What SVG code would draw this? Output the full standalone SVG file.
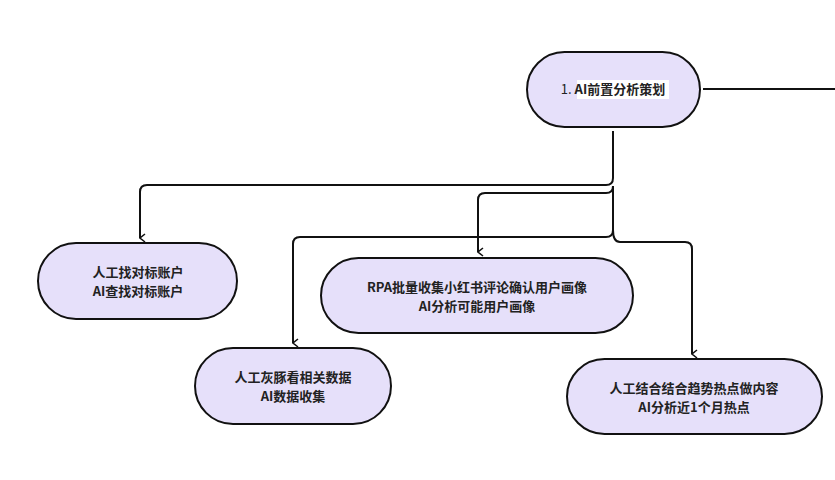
<svg xmlns="http://www.w3.org/2000/svg" width="835" height="480" viewBox="0 0 835 480">
<style>
.n{fill:#e6e0fa;stroke:#111;stroke-width:2}
.c{fill:none;stroke:#111;stroke-width:2}
text{font-family:"Noto Sans CJK SC","Noto Sans",sans-serif;font-size:13px;font-weight:bold;fill:#222;text-anchor:middle}
</style>
<defs><marker id="a" viewBox="0 0 10 10" refX="5" refY="9" markerWidth="10" markerHeight="10" markerUnits="userSpaceOnUse" orient="auto-start-reverse"><path d="M1,4 L5,9 L9,4" fill="none" stroke="#111" stroke-width="1.6"/></marker></defs>
<rect width="835" height="480" fill="#fff"/>
<g id="connectors">
<path class="c" d="M703,89 H835"/>
<path class="c" d="M613,131 V178 Q613,185 606,185 H147 Q140,185 140,192 V238" marker-end="url(#a)"/>
<path class="c" d="M613,186 Q613,193 606,193 H485 Q478,193 478,200 V252" marker-end="url(#a)"/>
<path class="c" d="M613,186 V230 Q613,237 606,237 H300 Q293,237 293,244 V343" marker-end="url(#a)"/>
<path class="c" d="M613,230 Q613,242 620,242 H685 Q692,242 692,249 V354" marker-end="url(#a)"/>
</g>
<g id="n0"><rect class="n" x="527" y="52" width="173" height="75" rx="37.5"/><rect x="577" y="80" width="92" height="19" fill="#fff"/><text x="613" y="94"><tspan font-weight="normal">1. </tspan>AI前置分析策划</text></g>
<g id="n1"><rect class="n" x="38" y="243" width="199" height="76" rx="38"/><text x="138" y="277">人工找对标账户</text><text x="138" y="296">AI查找对标账户</text></g>
<g id="n2"><rect class="n" x="321" y="258" width="312" height="75" rx="37.5"/><text x="477" y="292">RPA批量收集小红书评论确认用户画像</text><text x="477" y="311">AI分析可能用户画像</text></g>
<g id="n3"><rect class="n" x="195" y="348" width="196" height="76" rx="38"/><text x="293" y="382">人工灰豚看相关数据</text><text x="293" y="401">AI数据收集</text></g>
<g id="n4"><rect class="n" x="567" y="359" width="255" height="75" rx="37.5"/><text x="694" y="393">人工结合结合趋势热点做内容</text><text x="694" y="412">AI分析近1个月热点</text></g>
</svg>
